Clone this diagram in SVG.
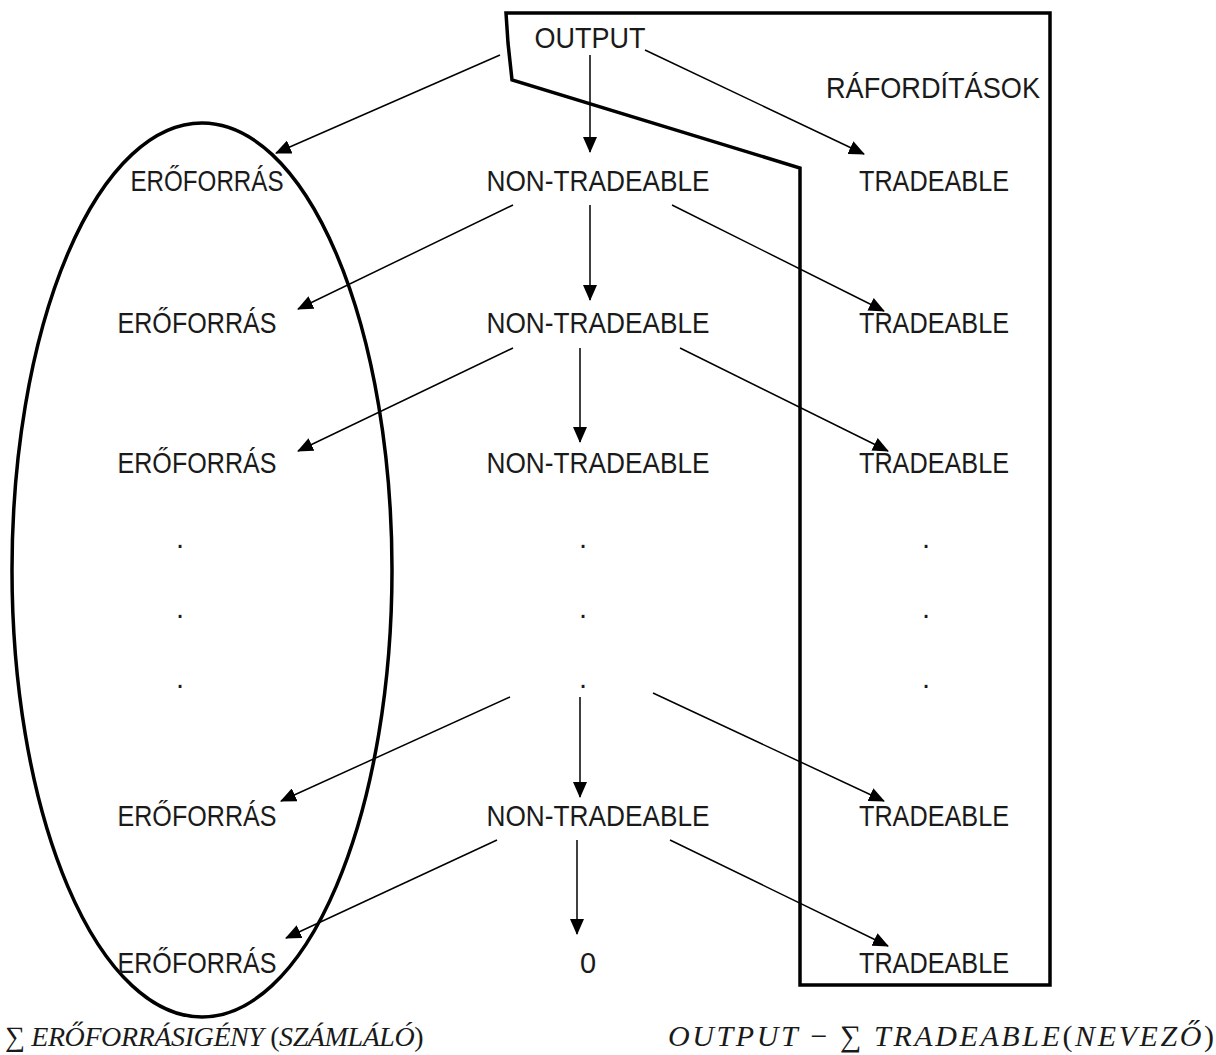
<svg xmlns="http://www.w3.org/2000/svg" width="1216" height="1055" viewBox="0 0 1216 1055">
<defs>
<marker id="ah" markerWidth="16" markerHeight="14" refX="15" refY="7" orient="auto" markerUnits="userSpaceOnUse" viewBox="0 0 16 14">
<path d="M0,0 L16,7 L0,14 z" fill="#000"/>
</marker>
<style>
.lbl{font-family:"Liberation Sans",Arial,sans-serif;font-size:29px;fill:#1a1a1a;text-anchor:middle;dominant-baseline:central}
.f{font-family:"Liberation Serif","Times New Roman",serif;font-size:30px;fill:#1a1a1a}
.i{font-style:italic}
.c{stroke:#000;stroke-width:1.5;fill:none;marker-end:url(#ah)}
.s{stroke:#000;stroke-width:3.5;fill:none}
</style>
</defs>
<rect width="1216" height="1055" fill="#fff"/>
<g id="shapes">
<path class="s" d="M506,13 L1050,13 L1050,985 L800,985 L800,168 L512,80 L508,43 Z"/>
<ellipse class="s" cx="202" cy="570" rx="190" ry="447" stroke-width="3"/>
</g>
<g id="connectors">
<line class="c" x1="500" y1="55" x2="276" y2="153"/>
<line class="c" x1="645" y1="50" x2="864" y2="154"/>
<line class="c" x1="590" y1="55" x2="590" y2="152"/>
<line class="c" x1="513" y1="205" x2="298" y2="309"/>
<line class="c" x1="590" y1="205" x2="590" y2="300"/>
<line class="c" x1="672" y1="205" x2="884" y2="311"/>
<line class="c" x1="513" y1="348" x2="298" y2="451"/>
<line class="c" x1="580" y1="348" x2="580" y2="442"/>
<line class="c" x1="680" y1="348" x2="888" y2="451"/>
<line class="c" x1="510" y1="697" x2="281" y2="801"/>
<line class="c" x1="580" y1="697" x2="580" y2="797"/>
<line class="c" x1="653" y1="693" x2="884" y2="801"/>
<line class="c" x1="497" y1="840" x2="286" y2="938"/>
<line class="c" x1="577" y1="840" x2="577" y2="934"/>
<line class="c" x1="670" y1="840" x2="888" y2="946"/>
</g>
<g id="output"><text class="lbl" x="590" y="38" textLength="111" lengthAdjust="spacingAndGlyphs">OUTPUT</text></g>
<g id="raforditasok"><text class="lbl" x="933" y="88" textLength="214" lengthAdjust="spacingAndGlyphs">RÁFORDÍTÁSOK</text></g>
<g id="ero1"><text class="lbl" x="207" y="181" textLength="153" lengthAdjust="spacingAndGlyphs">ERŐFORRÁS</text></g>
<g id="nt1"><text class="lbl" x="598" y="181" textLength="223" lengthAdjust="spacingAndGlyphs">NON-TRADEABLE</text></g>
<g id="tr1"><text class="lbl" x="934" y="181" textLength="150" lengthAdjust="spacingAndGlyphs">TRADEABLE</text></g>
<g id="ero2"><text class="lbl" x="197" y="323" textLength="159" lengthAdjust="spacingAndGlyphs">ERŐFORRÁS</text></g>
<g id="nt2"><text class="lbl" x="598" y="323" textLength="223" lengthAdjust="spacingAndGlyphs">NON-TRADEABLE</text></g>
<g id="tr2"><text class="lbl" x="934" y="323" textLength="150" lengthAdjust="spacingAndGlyphs">TRADEABLE</text></g>
<g id="ero3"><text class="lbl" x="197" y="463" textLength="159" lengthAdjust="spacingAndGlyphs">ERŐFORRÁS</text></g>
<g id="nt3"><text class="lbl" x="598" y="463" textLength="223" lengthAdjust="spacingAndGlyphs">NON-TRADEABLE</text></g>
<g id="tr3"><text class="lbl" x="934" y="463" textLength="150" lengthAdjust="spacingAndGlyphs">TRADEABLE</text></g>
<g id="dots">
<text class="lbl" x="180" y="538">.</text><text class="lbl" x="180" y="608">.</text><text class="lbl" x="180" y="678">.</text>
<text class="lbl" x="583" y="538">.</text><text class="lbl" x="583" y="608">.</text><text class="lbl" x="583" y="678">.</text>
<text class="lbl" x="926" y="538">.</text><text class="lbl" x="926" y="608">.</text><text class="lbl" x="926" y="678">.</text>
</g>
<g id="ero4"><text class="lbl" x="197" y="816" textLength="159" lengthAdjust="spacingAndGlyphs">ERŐFORRÁS</text></g>
<g id="nt4"><text class="lbl" x="598" y="816" textLength="223" lengthAdjust="spacingAndGlyphs">NON-TRADEABLE</text></g>
<g id="tr4"><text class="lbl" x="934" y="816" textLength="150" lengthAdjust="spacingAndGlyphs">TRADEABLE</text></g>
<g id="ero5"><text class="lbl" x="197" y="963" textLength="159" lengthAdjust="spacingAndGlyphs">ERŐFORRÁS</text></g>
<g id="zero"><text class="lbl" x="588" y="963">0</text></g>
<g id="tr5"><text class="lbl" x="934" y="963" textLength="150" lengthAdjust="spacingAndGlyphs">TRADEABLE</text></g>
<g id="formula-left">
<text class="f" x="5" y="1046" style="font-size:28px;letter-spacing:-0.4px">∑ <tspan class="i">ERŐFORRÁSIGÉNY</tspan> (<tspan class="i">SZÁMLÁLÓ</tspan>)</text>
</g>
<g id="formula-right">
<text class="f" x="668" y="1046" style="letter-spacing:2.6px"><tspan class="i">OUTPUT</tspan> − ∑ <tspan class="i">TRADEABLE</tspan>(<tspan class="i">NEVEZŐ</tspan>)</text>
</g>
</svg>
